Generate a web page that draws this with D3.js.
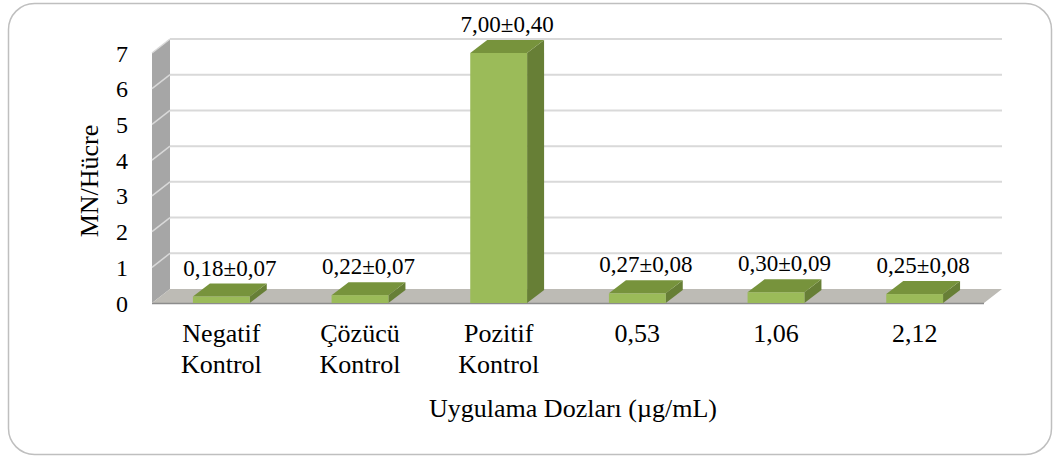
<!DOCTYPE html>
<html>
<head>
<meta charset="utf-8">
<script src="https://cdn.jsdelivr.net/npm/d3@7"></script>
<style>
  html, body { margin: 0; padding: 0; background: #fff; }
  svg { display: block; }
  text { font-family: "Liberation Serif", "Times New Roman", serif; fill: #000; }
</style>
</head>
<body>
<script>
// Micronucleus frequency per cell for each treatment group
const categories = [["Negatif", "Kontrol"], ["Çözücü", "Kontrol"], ["Pozitif", "Kontrol"], ["0,53"], ["1,06"], ["2,12"]];
const means = [0.18, 0.22, 7.00, 0.27, 0.30, 0.25];
const sds = [0.07, 0.07, 0.40, 0.08, 0.09, 0.08];
const yTicks = [0, 1, 2, 3, 4, 5, 6, 7];
const yTitle = "MN/Hücre";
const xTitle = "Uygulama Dozları (µg/mL)";

const W = 1059, H = 456;
const svg = d3.select("body").append("svg").attr("width", W).attr("height", H);

// outer rounded frame
svg.append("rect")
  .attr("x", 8.5).attr("y", 3.5).attr("width", 1043).attr("height", 451)
  .attr("rx", 26).attr("ry", 26)
  .attr("fill", "#fff").attr("stroke", "#bfbfbf").attr("stroke-width", 1.5);

// 3D projection: front plane plus a depth offset
const DX = 18, DY = -14;     // wall / floor depth
const BDX = 17, BDY = -13;   // bar depth
const x0 = 152, x1 = 984;

const keys = categories.map((c, i) => i);
const x = d3.scaleBand().domain(keys).range([x0, x1]).paddingInner(0.59).paddingOuter(0.295);
const y = d3.scaleLinear().domain([0, 7]).range([303, 53]);

const g = svg.append("g");
const fmt = v => v.toFixed(2).replace(".", ",");

// back wall
g.append("rect")
  .attr("x", x0 + DX).attr("y", y(7) + DY)
  .attr("width", x1 - x0).attr("height", y(0) - y(7))
  .attr("fill", "#fff");

// left side wall
g.append("path")
  .attr("d", `M${x0},${y(0)} L${x0},${y(7)} L${x0 + DX},${y(7) + DY} L${x0 + DX},${y(0) + DY} Z`)
  .attr("fill", "#a6a6a6");

// gridlines on back wall and across the side wall
yTicks.forEach(t => {
  if (t === 0) return;
  g.append("line")
    .attr("x1", x0 + DX).attr("x2", x1 + DX)
    .attr("y1", y(t) + DY).attr("y2", y(t) + DY)
    .attr("stroke", "#d9d9d9").attr("stroke-width", 2);
  g.append("line")
    .attr("x1", x0).attr("x2", x0 + DX)
    .attr("y1", y(t)).attr("y2", y(t) + DY)
    .attr("stroke", "#d9d9d9").attr("stroke-width", 1.5);
});

// floor
g.append("path")
  .attr("d", `M${x0},${y(0)} L${x0 + DX},${y(0) + DY} L${x1 + DX},${y(0) + DY} L${x1},${y(0)} Z`)
  .attr("fill", "#bdbbb5");
g.append("line")
  .attr("x1", x0).attr("x2", x1).attr("y1", y(0) + 0.5).attr("y2", y(0) + 0.5)
  .attr("stroke", "#8c8c8c").attr("stroke-width", 1.5);

// bars: front, top and right side faces
const bars = g.selectAll("g.bar").data(keys).enter().append("g").attr("class", "bar");
bars.append("path")
  .attr("d", i => {
    const bx = x(i) + x.bandwidth(), yt = y(means[i]), yb = y(0);
    return `M${bx},${yb} L${bx},${yt} L${bx + BDX},${yt + BDY} L${bx + BDX},${yb + BDY} Z`;
  })
  .attr("fill", "#677f36");
bars.append("path")
  .attr("d", i => {
    const bx = x(i), bw = x.bandwidth(), yt = y(means[i]);
    return `M${bx},${yt} L${bx + BDX},${yt + BDY} L${bx + bw + BDX},${yt + BDY} L${bx + bw},${yt} Z`;
  })
  .attr("fill", "#77933c");
bars.append("rect")
  .attr("x", i => x(i)).attr("width", x.bandwidth())
  .attr("y", i => y(means[i])).attr("height", i => y(0) - y(means[i]))
  .attr("fill", "#9bbb59");

// value labels
bars.append("text")
  .attr("x", i => x(i) + x.bandwidth() / 2 + BDX / 2)
  .attr("y", i => y(means[i]) + BDY - 8)
  .attr("text-anchor", "middle")
  .attr("font-size", 23)
  .text(i => `${fmt(means[i])}±${fmt(sds[i])}`);

// y tick labels
g.selectAll("text.ytick").data(yTicks).enter().append("text")
  .attr("class", "ytick")
  .attr("x", 128).attr("y", t => y(t)).attr("dy", "0.36em")
  .attr("text-anchor", "end").attr("font-size", 24)
  .text(t => t);

// category labels
const cat = g.selectAll("text.cat").data(keys).enter().append("text")
  .attr("class", "cat")
  .attr("text-anchor", "middle").attr("font-size", 26);
cat.selectAll("tspan").data(i => categories[i].map(s => ({ s, i }))).enter().append("tspan")
  .attr("x", d => x(d.i) + x.bandwidth() / 2)
  .attr("y", (d, k) => 342 + k * 31)
  .text(d => d.s);

// axis titles
g.append("text")
  .attr("x", 573).attr("y", 417)
  .attr("text-anchor", "middle").attr("font-size", 26)
  .text(xTitle);
g.append("text")
  .attr("transform", "translate(98,181) rotate(-90)")
  .attr("text-anchor", "middle").attr("font-size", 26)
  .text(yTitle);
</script>
</body>
</html>
